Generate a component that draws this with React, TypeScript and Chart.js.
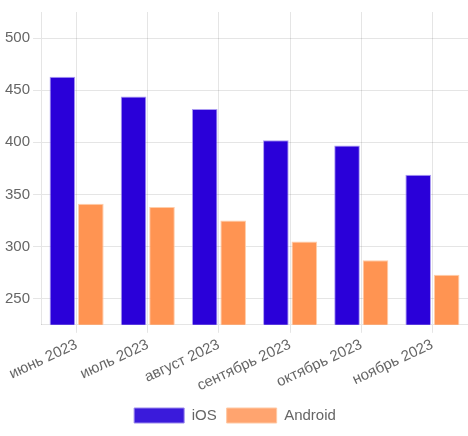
import React, { useRef, useEffect } from 'react'
import Chart from 'chart.js/auto'

const months = ['июнь 2023', 'июль 2023', 'август 2023', 'сентябрь 2023', 'октябрь 2023', 'ноябрь 2023']
const iosValues = [463, 444, 432, 402, 397, 369]
const androidValues = [341, 338, 325, 305, 287, 273]
const yTicks = [250, 300, 350, 400, 450, 500]

export default function App() {
  const chartRef = useRef<HTMLCanvasElement>(null)

  useEffect(() => {
    document.body.style.margin = '0'
    if (!chartRef.current) return
    const ctx = chartRef.current.getContext('2d')
    if (!ctx) return

    const chart = new Chart(ctx, {
      type: 'bar',
      data: {
        labels: months,
        datasets: [
          {
            label: 'iOS',
            data: iosValues,
            backgroundColor: '#2a00d9',
            borderColor: 'rgba(150,130,240,0.8)',
            borderWidth: 1,
          },
          {
            label: 'Android',
            data: androidValues,
            backgroundColor: '#ff9452',
            borderColor: 'rgba(255,200,160,0.9)',
            borderWidth: 1,
          },
        ],
      },
      options: {
        animation: false,
        responsive: true,
        maintainAspectRatio: false,
        layout: { padding: { top: 12, left: 2, bottom: 3 } },
        scales: {
          x: {
            grid: { offset: false },
            ticks: { font: { size: 15 }, color: '#666', minRotation: 25, maxRotation: 25 },
          },
          y: {
            min: 225,
            max: 525,
            afterBuildTicks: (axis: any) => {
              axis.ticks = yTicks.map((v) => ({ value: v }))
            },
            ticks: { font: { size: 15 }, color: '#666' },
          },
        },
        plugins: {
          legend: {
            position: 'bottom',
            labels: {
              boxWidth: 50,
              boxHeight: 15,
              font: { size: 15 },
              color: '#666',
              generateLabels: (c: any) => {
                const base = Chart.defaults.plugins.legend.labels.generateLabels(c)
                const fills = ['#3a1adb', '#ffa46f']
                const strokes = ['#9a88ec', '#ffc9a5']
                return base.map((l: any, i: number) => ({
                  ...l,
                  fillStyle: fills[i],
                  strokeStyle: strokes[i],
                  lineWidth: 1,
                }))
              },
            },
          },
          tooltip: { enabled: false },
        },
      },
    })

    return () => {
      chart.destroy()
    }
  }, [])

  return (
    <div style={{ width: 468, height: 436, position: 'relative' }}>
      <canvas ref={chartRef}></canvas>
    </div>
  )
}
